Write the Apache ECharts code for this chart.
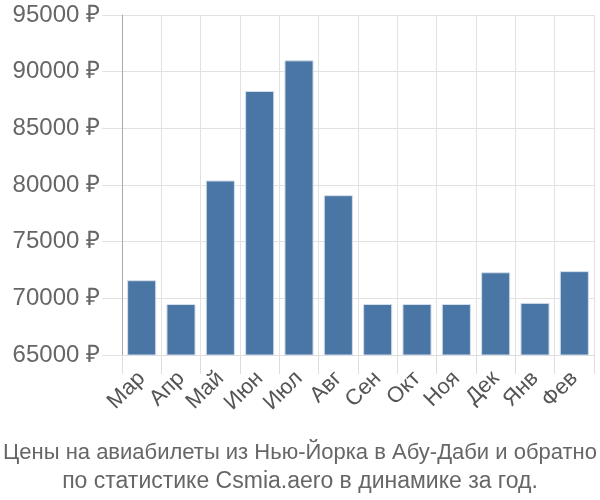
<!DOCTYPE html>
<html>
<head>
<meta charset="utf-8">
<script src="https://cdn.jsdelivr.net/npm/echarts@6/dist/echarts.min.js"></script>
<style>html,body{margin:0;padding:0;background:#fff}#c{width:600px;height:500px}</style>
</head>
<body>
<div id="c"></div>
<script>
var months = ['Мар','Апр','Май','Июн','Июл','Авг','Сен','Окт','Ноя','Дек','Янв','Фев'];
var prices = [71600, 69500, 80400, 88300, 91000, 79100, 69500, 69500, 69500, 72300, 69600, 72400];
var yMin = 65000, yMax = 95000, yStep = 5000;
var titleLine1 = 'Цены на авиабилеты из Нью-Йорка в Абу-Даби и обратно';
var titleLine2 = 'по статистике Csmia.aero в динамике за год.';

var chart = echarts.init(document.getElementById('c'), null, {renderer: 'canvas'});
chart.setOption({
  animation: false,
  textStyle: {fontFamily: 'Liberation Sans, Arial, sans-serif'},
  title: {
    text: '{a|' + titleLine1 + '}\n{b|' + titleLine2 + '}',
    left: 'center',
    top: 434,
    textStyle: {
      fontSize: 22, fontWeight: 'normal', color: '#666', lineHeight: 28,
      fontFamily: 'Liberation Sans, Arial, sans-serif',
      rich: {
        a: {fontFamily: 'Liberation Sans, Arial, sans-serif', fontSize: 22, color: '#666', lineHeight: 28},
        b: {fontFamily: 'Liberation Sans, Arial, sans-serif', fontSize: 23, color: '#666', lineHeight: 29}
      }
    }
  },
  grid: {left: 122, right: 6, top: 15, bottom: 145, containLabel: false},
  xAxis: {
    type: 'category',
    data: months,
    boundaryGap: true,
    axisLine: {show: true, lineStyle: {color: '#ddd', width: 1}},
    axisTick: {show: true, length: 19, lineStyle: {color: '#ddd'}},
    splitLine: {show: true, lineStyle: {color: '#e2e2e2', width: 1}},
    axisLabel: {rotate: 45, fontSize: 22, color: '#555', margin: 20, interval: 0}
  },
  yAxis: {
    type: 'value',
    min: yMin, max: yMax, interval: yStep,
    axisLine: {show: true, lineStyle: {color: '#aaa', width: 1}},
    axisTick: {show: true, length: 20, lineStyle: {color: '#e2e2e2'}},
    splitLine: {show: true, lineStyle: {color: '#e2e2e2', width: 1}},
    axisLabel: {formatter: function (v) { return String(v) + ' ₽'; }, fontSize: 24, color: '#666', margin: 22}
  },
  series: [{
    type: 'bar',
    data: prices,
    barWidth: '74%',
    itemStyle: {color: '#4a76a5', borderColor: '#d5dfeb', borderWidth: 1}
  }]
});
</script>
</body>
</html>
